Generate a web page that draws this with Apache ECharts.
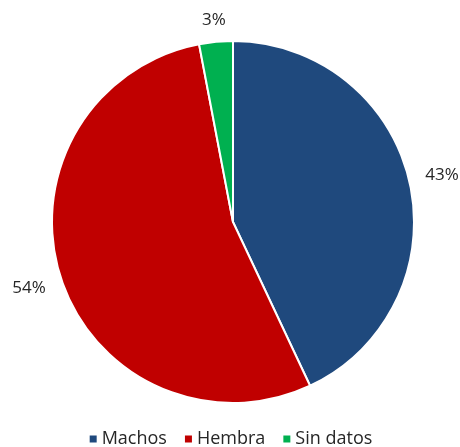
<!DOCTYPE html>
<html>
<head>
<meta charset="utf-8">
<script src="https://cdn.jsdelivr.net/npm/echarts@6/dist/echarts.min.js"></script>
<style>
  html, body { margin: 0; padding: 0; background: #ffffff; }
  #chart { width: 460px; height: 447px; }
</style>
</head>
<body>
<div id="chart"></div>
<script>
// Sex distribution (percent)
const categories = ['Machos', 'Hembra', 'Sin datos'];
const values = [43, 54, 3];
const colors = ['#1F497D', '#C00000', '#00B050'];

const CENTER = [233, 222];
const RADIUS = 181;
const FONT = 'Open Sans, Lato, sans-serif';

// mid angle of each slice, clockwise from 12 o'clock
const total = values.reduce((a, b) => a + b, 0);
const midAngles = [];
values.reduce((acc, v) => {
  midAngles.push((acc + v / 2) / total * 2 * Math.PI);
  return acc + v;
}, 0);

const chart = echarts.init(document.getElementById('chart'));
chart.setOption({
  animation: false,
  color: colors,
  textStyle: { fontFamily: FONT },
  legend: {
    top: 425,
    left: 'center',
    itemWidth: 9,
    itemHeight: 9,
    itemGap: 16,
    icon: 'rect',
    textStyle: { fontSize: 18, color: '#262626', fontFamily: FONT, padding: [0, 0, 0, -1] },
    data: categories
  },
  series: [{
    type: 'pie',
    center: CENTER,
    radius: [0, RADIUS],
    startAngle: 90,
    clockwise: true,
    data: categories.map((name, i) => ({ name, value: values[i] })),
    itemStyle: { borderColor: '#ffffff', borderWidth: 2 },
    label: {
      show: true,
      position: 'outside',
      formatter: p => p.value + '%',
      fontSize: 17,
      color: '#262626',
      fontFamily: FONT,
      overflow: 'none'
    },
    labelLine: { show: false },
    // place each label radially outside its slice
    labelLayout: params => {
      const a = midAngles[params.dataIndex];
      const dx = Math.sin(a), dy = -Math.cos(a);
      const w = params.labelRect.width, h = params.labelRect.height;
      const d = RADIUS + 12 + Math.abs(dx) * (w / 2 + 3) + Math.abs(dy) * h / 2;
      return {
        x: CENTER[0] + dx * d,
        y: CENTER[1] + dy * d,
        align: 'center',
        verticalAlign: 'middle'
      };
    },
    emphasis: { disabled: true }
  }]
});
</script>
</body>
</html>
